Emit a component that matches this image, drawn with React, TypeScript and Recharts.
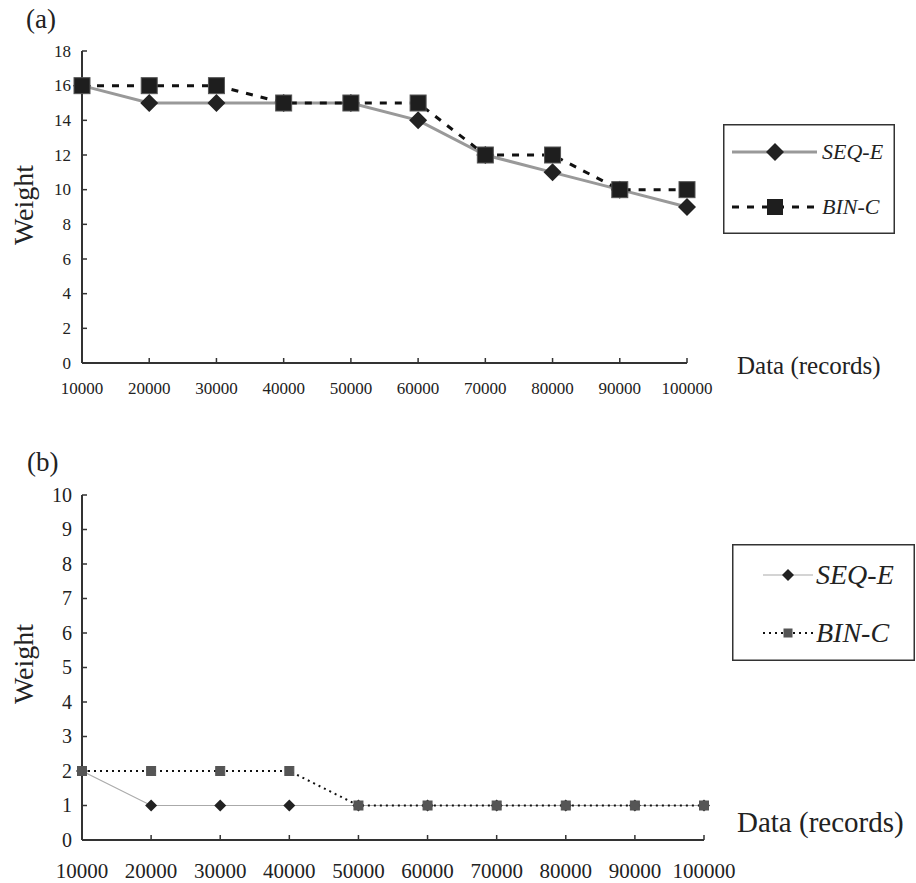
import { LineChart, Line, XAxis, YAxis, Legend } from 'recharts';

// data sizes in records
const records = [10000, 20000, 30000, 40000, 50000, 60000, 70000, 80000, 90000, 100000];

// (a)
const seqWeightA = [16, 15, 15, 15, 15, 14, 12, 11, 10, 9];
const binWeightA = [16, 16, 16, 15, 15, 15, 12, 12, 10, 10];
const yTicksA = [0, 2, 4, 6, 8, 10, 12, 14, 16, 18];

// (b)
const seqWeightB = [2, 1, 1, 1, 1, 1, 1, 1, 1, 1];
const binWeightB = [2, 2, 2, 2, 1, 1, 1, 1, 1, 1];
const yTicksB = [0, 1, 2, 3, 4, 5, 6, 7, 8, 9, 10];

const SERIF = "'Liberation Serif', 'Times New Roman', serif";
const INK = '#222';
const AXIS = '#333';

const dataA = records.map((r, i) => ({ records: r, seq: seqWeightA[i], bin: binWeightA[i] }));
const dataB = records.map((r, i) => ({ records: r, seq: seqWeightB[i], bin: binWeightB[i] }));

const diamondPath = (cx: number, cy: number, s: number) =>
  `M${cx},${cy - s}L${cx + s},${cy}L${cx},${cy + s}L${cx - s},${cy}Z`;

const diamondDot = (s: number, fill: string) => (props: any) => {
  const { cx, cy, index } = props;
  if (cx == null || cy == null) return <g key={`dd-${index}`} />;
  return <path key={`dd-${index}`} d={diamondPath(cx, cy, s)} fill={fill} />;
};

const squareDot = (s: number, fill: string, edge: string) => (props: any) => {
  const { cx, cy, index } = props;
  if (cx == null || cy == null) return <g key={`sq-${index}`} />;
  return (
    <rect key={`sq-${index}`} x={cx - s / 2} y={cy - s / 2} width={s} height={s}
      fill={fill} stroke={edge} strokeWidth={1} />
  );
};

// serif tick labels (x axis: top of digits at y, y axis: centred, right aligned)
const xTick = (size: number) => (props: any) => {
  const { x, y, payload } = props;
  return (
    <text x={x} y={y + size * 0.71} textAnchor="middle" fill={INK}
      style={{ fontFamily: SERIF, fontSize: size }}>{payload.value}</text>
  );
};

const yTick = (size: number) => (props: any) => {
  const { x, y, payload } = props;
  return (
    <text x={x} y={y + size * 0.34} textAnchor="end" fill={INK}
      style={{ fontFamily: SERIF, fontSize: size }}>{payload.value}</text>
  );
};

interface LegendOpts {
  w: number;
  h: number;
  rows: number[];
  lineX: [number, number];
  markX: number;
  textX: number;
  fontSize: number;
  seqStroke: string;
  seqWidth: number;
  binDash: string;
  binWidth: number;
  diamond: number;
  square: number;
  squareFill: string;
}

const LegendBox = ({ o }: { o: LegendOpts }) => (
  <svg width={o.w} height={o.h} style={{ display: 'block' }}>
    <rect x={0.75} y={0.75} width={o.w - 1.5} height={o.h - 1.5} fill="#fff" stroke={AXIS} strokeWidth={1.5} />
    <line x1={o.lineX[0]} x2={o.lineX[1]} y1={o.rows[0]} y2={o.rows[0]} stroke={o.seqStroke} strokeWidth={o.seqWidth} />
    <path d={diamondPath(o.markX, o.rows[0], o.diamond)} fill={INK} />
    <text x={o.textX} y={o.rows[0] + o.fontSize * 0.33} fill={INK}
      style={{ fontFamily: SERIF, fontStyle: 'italic', fontSize: o.fontSize }}>SEQ-E</text>
    <line x1={o.lineX[0]} x2={o.lineX[1]} y1={o.rows[1]} y2={o.rows[1]} stroke="#111" strokeWidth={o.binWidth} strokeDasharray={o.binDash} />
    <rect x={o.markX - o.square / 2} y={o.rows[1] - o.square / 2} width={o.square} height={o.square} fill={o.squareFill} />
    <text x={o.textX} y={o.rows[1] + o.fontSize * 0.33} fill={INK}
      style={{ fontFamily: SERIF, fontStyle: 'italic', fontSize: o.fontSize }}>BIN-C</text>
  </svg>
);

const legendA: LegendOpts = {
  w: 172, h: 110, rows: [28, 83], lineX: [9, 94], markX: 52, textX: 99, fontSize: 22,
  seqStroke: '#999', seqWidth: 3, binDash: '7 8', binWidth: 3, diamond: 9, square: 16, squareFill: '#1e1e1e',
};

const legendB: LegendOpts = {
  w: 183, h: 117, rows: [31, 89], lineX: [31, 81], markX: 56, textX: 84, fontSize: 28,
  seqStroke: '#aaa', seqWidth: 1.2, binDash: '2 4', binWidth: 2, diamond: 6, square: 9, squareFill: '#555',
};

const txt = (size: number) => ({ fontFamily: SERIF, fontSize: size });

const App = () => {
  return (
    <div style={{ position: 'absolute', left: 0, top: 0, width: 916, height: 883, background: '#fff', fontFamily: SERIF }}>
      {/* (a) */}
      <div style={{ position: 'absolute', left: 0, top: 0 }}>
        <LineChart width={916} height={420} data={dataA} margin={{ top: 51, right: 229, left: 42, bottom: 27 }}>
          <XAxis dataKey="records" type="number" domain={[10000, 100000]} ticks={records} interval={0}
            height={30} tickSize={-5} tickMargin={24}
            axisLine={{ stroke: AXIS, strokeWidth: 2 }} tickLine={{ stroke: AXIS, strokeWidth: 1.5 }}
            tick={xTick(17)} />
          <YAxis type="number" domain={[0, 18]} ticks={yTicksA} interval={0} width={40}
            tickSize={-5} tickMargin={16}
            axisLine={{ stroke: AXIS, strokeWidth: 2 }} tickLine={{ stroke: AXIS, strokeWidth: 1.5 }}
            tick={yTick(17)} />
          <Legend layout="vertical" align="center" verticalAlign="middle"
            wrapperStyle={{ left: 723, top: 124, width: 172, height: 110 }}
            content={() => <LegendBox o={legendA} />} />
          <Line dataKey="seq" name="SEQ-E" stroke="#999" strokeWidth={3}
            dot={diamondDot(9, INK)} activeDot={false} isAnimationActive={false} />
          <Line dataKey="bin" name="BIN-C" stroke="#111" strokeWidth={3} strokeDasharray="7 8"
            dot={squareDot(16, '#1e1e1e', '#555')} activeDot={false} isAnimationActive={false} />
        </LineChart>
      </div>

      {/* (b) */}
      <div style={{ position: 'absolute', left: 0, top: 440 }}>
        <LineChart width={916} height={443} data={dataB} margin={{ top: 55, right: 212, left: 42, bottom: 13 }}>
          <XAxis dataKey="records" type="number" domain={[10000, 100000]} ticks={records} interval={0}
            height={30} tickSize={-5} tickMargin={28}
            axisLine={{ stroke: AXIS, strokeWidth: 2 }} tickLine={{ stroke: AXIS, strokeWidth: 1.5 }}
            tick={xTick(21)} />
          <YAxis type="number" domain={[0, 10]} ticks={yTicksB} interval={0} width={40}
            tickSize={-5} tickMargin={15}
            axisLine={{ stroke: AXIS, strokeWidth: 2 }} tickLine={{ stroke: AXIS, strokeWidth: 1.5 }}
            tick={yTick(20)} />
          <Legend layout="vertical" align="center" verticalAlign="middle"
            wrapperStyle={{ left: 732, top: 104, width: 183, height: 117 }}
            content={() => <LegendBox o={legendB} />} />
          <Line dataKey="seq" name="SEQ-E" stroke="#aaa" strokeWidth={1.2}
            dot={diamondDot(6, INK)} activeDot={false} isAnimationActive={false} />
          <Line dataKey="bin" name="BIN-C" stroke="#111" strokeWidth={2} strokeDasharray="2 4"
            dot={squareDot(9, '#555', '#555')} activeDot={false} isAnimationActive={false} />
        </LineChart>
      </div>

      {/* panel letters and axis titles */}
      <svg width={916} height={883} style={{ position: 'absolute', left: 0, top: 0, pointerEvents: 'none' }}>
        <text x={26} y={28} fill={INK} style={txt(27)}>(a)</text>
        <text x={27} y={471} fill={INK} style={txt(27)}>(b)</text>
        <text x={33} y={205} transform="rotate(-90 33 205)" textAnchor="middle" fill={INK} style={txt(28)}>Weight</text>
        <text x={33} y={664} transform="rotate(-90 33 664)" textAnchor="middle" fill={INK} style={txt(28)}>Weight</text>
        <text x={737} y={374} fill={INK} style={txt(25)}>Data (records)</text>
        <text x={737} y={832} fill={INK} style={txt(29)}>Data (records)</text>
      </svg>
    </div>
  );
};

export default App;
